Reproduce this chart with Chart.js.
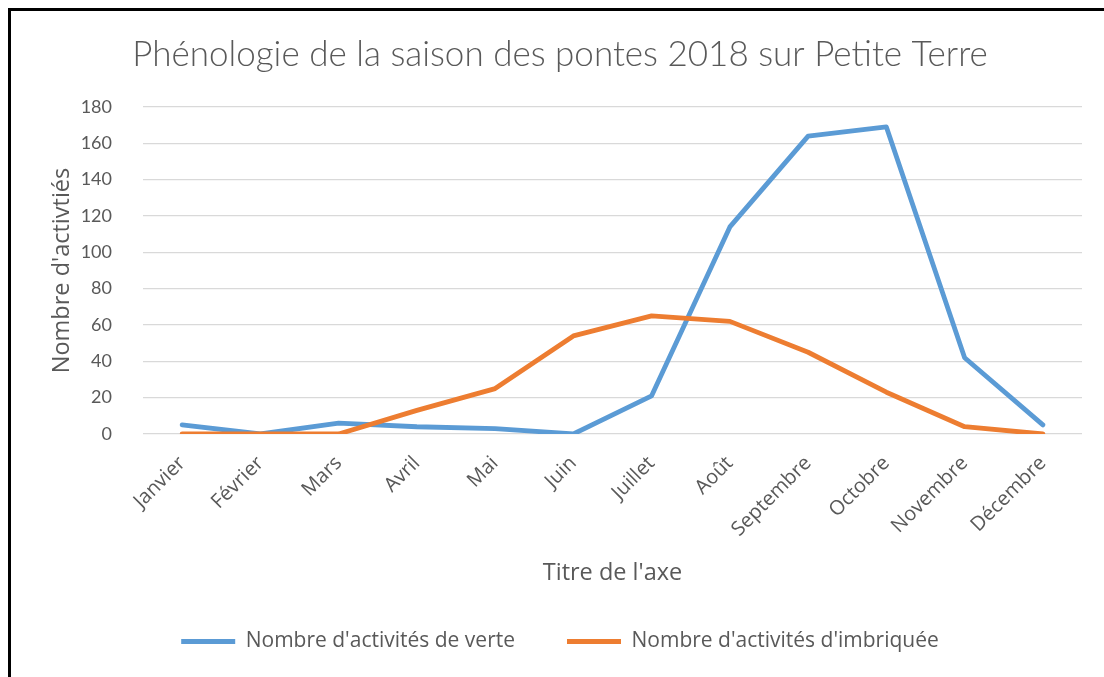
<!DOCTYPE html>
<html>
<head>
<meta charset="utf-8">
<script src="https://cdn.jsdelivr.net/npm/chart.js@4/dist/chart.umd.min.js"></script>
<style>
  html, body { margin: 0; padding: 0; background: #fff; overflow: hidden; width: 1104px; height: 677px; }
  #frame { position: absolute; left: 8px; top: 8px; width: 1104px; height: 680px; border-left: 3px solid #000; border-top: 3px solid #000; }
  #frame canvas { display: block; }
</style>
</head>
<body>
<div id="frame"><canvas id="myChart" width="1104" height="680"></canvas></div>
<script>
const months = ['Janvier', 'Février', 'Mars', 'Avril', 'Mai', 'Juin', 'Juillet', 'Août', 'Septembre', 'Octobre', 'Novembre', 'Décembre'];
const verte = [5, 0, 6, 4, 3, 0, 21, 114, 164, 169, 42, 5];
const imbriquee = [0, 0, 0, 13, 25, 54, 65, 62, 45, 23, 4, 0];
const yTicks = [0, 20, 40, 60, 80, 100, 120, 140, 160, 180];

const grey = '#595959';
const titleFont = 'Lato, Carlito, Calibri, sans-serif';
const textFont = '"Open Sans", "Segoe UI", sans-serif';

const ctx = document.getElementById('myChart');

const chart = new Chart(ctx, {
    type: 'line',
    data: {
        labels: months,
        datasets: [
            {
                label: "Nombre d'activités de verte",
                data: verte,
                borderColor: '#5B9BD5',
                backgroundColor: '#5B9BD5',
                borderWidth: 4.8,
                borderCapStyle: 'round',
                borderJoinStyle: 'round',
                pointRadius: 0,
                tension: 0,
                order: 2
            },
            {
                label: "Nombre d'activités d'imbriquée",
                data: imbriquee,
                borderColor: '#ED7D31',
                backgroundColor: '#ED7D31',
                borderWidth: 4.8,
                borderCapStyle: 'round',
                borderJoinStyle: 'round',
                pointRadius: 0,
                tension: 0,
                order: 1
            }
        ]
    },
    options: {
        responsive: false,
        animation: false,
        layout: { padding: { left: 27, right: 33, top: 0, bottom: 29 } },
        plugins: {
            title: {
                display: true,
                text: 'Phénologie de la saison des pontes 2018 sur Petite Terre',
                color: grey,
                font: { family: titleFont, size: 35, weight: 300 },
                padding: { top: 23, bottom: 31 }
            },
            legend: {
                position: 'bottom',
                labels: {
                    color: grey,
                    font: { family: textFont, size: 21 },
                    usePointStyle: true,
                    pointStyle: 'line',
                    pointStyleWidth: 54,
                    boxHeight: 21,
                    padding: 10,
                    sort: (a, b) => a.datasetIndex - b.datasetIndex,
                    generateLabels: (c) => {
                        const items = Chart.defaults.plugins.legend.labels.generateLabels(c);
                        items.forEach((it) => {
                            if (it.datasetIndex === 0) it.text = it.text + '\u2003\u2003';
                        });
                        return items;
                    }
                }
            },
            tooltip: { enabled: false }
        },
        scales: {
            x: {
                offset: true,
                grid: { display: false },
                border: { display: false },
                ticks: {
                    color: grey,
                    font: { family: textFont, size: 20, lineHeight: 1.0 },
                    maxRotation: 45,
                    minRotation: 45,
                    autoSkip: false,
                    padding: 11
                },
                title: {
                    display: true,
                    text: "Titre de l'axe",
                    color: grey,
                    font: { family: textFont, size: 23.5 },
                    padding: { top: 0, bottom: 34 }
                },
                afterFit: (scale) => { scale.height = 187; }
            },
            y: {
                min: 0,
                max: 180,
                afterBuildTicks: (scale) => { scale.ticks = yTicks.map(v => ({ value: v })); },
                grid: { color: '#D9D9D9', lineWidth: 1.3, drawTicks: false },
                border: { display: false },
                ticks: {
                    color: grey,
                    font: { family: titleFont, size: 18 },
                    padding: 31
                },
                title: {
                    display: true,
                    text: "Nombre d'activtiés",
                    color: grey,
                    font: { family: textFont, size: 23.5 },
                    padding: { top: 10, bottom: 0 }
                },
                afterFit: (scale) => { scale.width = 105; }
            }
        }
    }
});
</script>
</body>
</html>
